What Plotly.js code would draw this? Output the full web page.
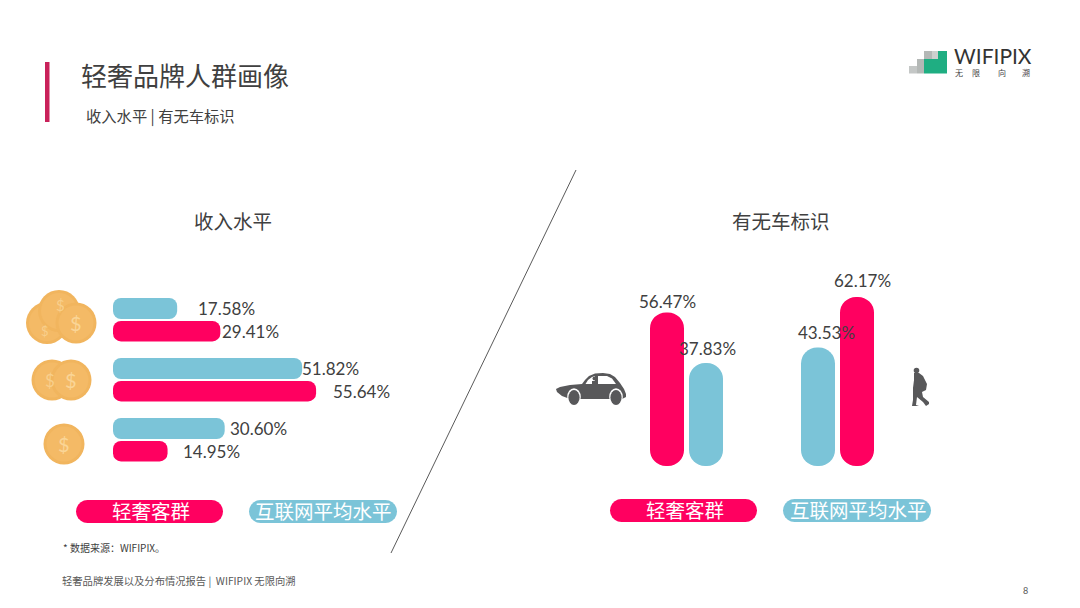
<!DOCTYPE html>
<html>
<head>
<meta charset="utf-8">
<script src="https://cdn.plot.ly/plotly-3.0.1.min.js"></script>
<style>html,body{margin:0;padding:0;background:#fff}#c{width:1080px;height:608px}</style>
</head>
<body>
<div id="c"></div>
<script>
// ---- data ----
const incomeLevels = ['高', '中', '低'];
const averageIncome = [17.58, 51.82, 30.60];
const luxuryIncome = [29.41, 55.64, 14.95];
const carGroups = ['有车', '无车'];
const carSlotA = [56.47, 43.53];
const carSlotB = [37.83, 62.17];
const seriesNames = ['轻奢客群', '互联网平均水平'];
const PINK = '#FF0060', BLUE = '#7BC4D8', TEXT = '#404040', GREY = '#58585A';
const carSlotAColors = [PINK, BLUE];
const carSlotBColors = [BLUE, PINK];

// ---- pixel helpers (page furniture only) ----
const W = 1080, H = 608;
const CJK = '"Noto Sans CJK SC", "Noto Sans", sans-serif';
const NUM = 'Lato, "Noto Sans CJK SC", sans-serif';
const px = x => x / W, py = y => 1 - y / H;
const P = (x, y) => px(x).toFixed(5) + ',' + py(y).toFixed(5);
const shapes = [], annotations = [];

function text(t, x, y, size, color, opt) {
  opt = opt || {};
  annotations.push({ text: t, xref: 'paper', yref: 'paper', x: px(x), y: py(y), showarrow: false,
    xanchor: opt.anchor || 'left', yanchor: 'middle', borderpad: 0,
    font: { family: opt.family || CJK, size: size, color: color }, opacity: opt.opacity === undefined ? 1 : opt.opacity });
}
function rect(x0, y0, x1, y1, color) {
  shapes.push({ type: 'rect', xref: 'paper', yref: 'paper', x0: px(x0), x1: px(x1), y0: py(y0), y1: py(y1),
    fillcolor: color, line: { width: 0 }, layer: 'below' });
}
function circle(cx, cy, rx, ry, color) {
  shapes.push({ type: 'circle', xref: 'paper', yref: 'paper', x0: px(cx - rx), x1: px(cx + rx), y0: py(cy - ry), y1: py(cy + ry),
    fillcolor: color, line: { width: 0 }, layer: 'below' });
}
function poly(points, color) {
  shapes.push({ type: 'path', xref: 'paper', yref: 'paper', layer: 'below', fillcolor: color, line: { width: 0 },
    path: 'M' + points.map(p => P(p[0], p[1])).join(' L') + ' Z' });
}
function pill(x0, y0, x1, y1, color) {
  const r = (y1 - y0) / 2, n = 10, pts = [];
  for (let i = 0; i <= n; i++) { const a = -Math.PI / 2 + Math.PI * i / n; pts.push([x1 - r + r * Math.cos(a), y0 + r + r * Math.sin(a)]); }
  for (let i = 0; i <= n; i++) { const a = Math.PI / 2 + Math.PI * i / n; pts.push([x0 + r + r * Math.cos(a), y0 + r + r * Math.sin(a)]); }
  poly(pts, color);
}
function coin(cx, cy, r) {
  circle(cx, cy, r, r, '#F1B55E');
  circle(cx, cy, r - 3, r - 3, '#F4BA66');
}
function dollar(x, y, size, op) {
  text('$', x, y, size, '#FAD596', { anchor: 'center', family: NUM, opacity: op });
}

// ---- header ----
rect(45, 62, 49.5, 122, '#C9215A');
text('轻奢品牌人群画像', 80, 74, 26, TEXT);
text('收入水平 | 有无车标识', 85, 116, 15.3, TEXT);

// logo
rect(909, 66, 917, 73.5, '#C4C7C6');
rect(917, 59, 924, 73.5, '#B4B8B6');
rect(924, 51, 932, 59, '#B4B8B6');
rect(932, 51, 938, 59, '#CDD0CE');
poly([[938,51],[947,51],[947,73.5],[924,73.5],[924,59],[938,59]], '#1FAE82');
text('WIFIPIX', 953, 56, 21, '#333333', { family: 'Lato, sans-serif' });
text('无', 959, 72, 8, '#444444', { anchor: 'center' });
text('限', 976, 72, 8, '#444444', { anchor: 'center' });
text('向', 1002, 72, 8, '#444444', { anchor: 'center' });
text('溯', 1026, 72, 8, '#444444', { anchor: 'center' });

// section titles
text('收入水平', 233, 220, 19.5, TEXT, { anchor: 'center' });
text('有无车标识', 781, 220, 19.5, TEXT, { anchor: 'center' });

// divider
shapes.push({ type: 'line', xref: 'paper', yref: 'paper', x0: px(576), y0: py(170), x1: px(391), y1: py(553),
  line: { color: '#5A5A5A', width: 1 }, layer: 'below' });

// coins
coin(47, 323, 21); coin(59, 311, 21); coin(76, 323, 20.5);
coin(52, 380, 20.5); coin(71, 380, 20.5);
coin(64, 444, 20.5);
dollar(60, 305, 15, 0.8); dollar(45, 331, 13, 0.8); dollar(76, 323, 20, 1);
dollar(50, 380, 17, 0.8); dollar(71, 380, 20, 1);
dollar(64, 444, 20, 1);

// car
poly([[556,389],[560,387],[570,385],[582,384],[585,380],[589,376],[595,373.5],[603,373],[610,374],[615,377],[620,383],[624,389],[626,394],[626,397],[622,399],[570,399],[562,396],[557,392]], GREY);
poly([[585.5,384],[588,380],[592,377],[595,376],[595,384]], '#FFFFFF');
poly([[598,376],[607,376],[612,378.5],[616,384],[598,384]], '#FFFFFF');
circle(574, 397, 6.8, 8.8, '#FFFFFF');
circle(616, 397, 6.8, 8.8, '#FFFFFF');
circle(574, 397.5, 5.6, 7.6, GREY);
circle(616, 397.5, 5.6, 7.6, GREY);
circle(594.5, 378.5, 2, 2, GREY);
poly([[592,381],[597,381],[597,385],[592,385]], GREY);

// person
circle(916.5, 370.5, 2.8, 2.8, GREY);
poly([[914,373],[919,373],[923,376],[927,384],[926,390],[922,392],[923,397],[929,402],[929,404],[926,406],[923,402],[917,397],[916,405],[919,406],[912,406],[913,400],[913,388],[914,380]], GREY);

// legend pills
pill(76, 500, 223, 523, PINK);
pill(249, 500, 397, 523, BLUE);
pill(610, 499, 757, 522, PINK);
pill(783, 499, 931, 522, BLUE);
text(seriesNames[0], 151, 510.5, 19.5, '#FFFFFF', { anchor: 'center' });
text(seriesNames[1], 323, 510.5, 19.5, '#FFFFFF', { anchor: 'center' });
text(seriesNames[0], 685, 509.5, 19.5, '#FFFFFF', { anchor: 'center' });
text(seriesNames[1], 858, 509.5, 19.5, '#FFFFFF', { anchor: 'center' });

// footers
text('* 数据来源：WIFIPIX。', 62, 547, 10, TEXT);
text('轻奢品牌发展以及分布情况报告 |  WIFIPIX 无限向溯', 61, 580, 10.3, '#595959');
text('8', 1025, 590, 9, '#595959', { family: NUM, anchor: 'center' });

// ---- bars: a tiny explicit base makes Plotly round both ends of each bar ----
const TINY_BASE = 0.0001;
function hBars(values, color, offset, width) {
  return { type: 'bar', orientation: 'h', xaxis: 'x', yaxis: 'y', y: incomeLevels, x: values,
    base: values.map(() => TINY_BASE), offset: offset, width: width, hoverinfo: 'skip', showlegend: false,
    marker: { color: color, cornerradius: 8, line: { width: 0 } } };
}
function vBars(values, colors, offset, width) {
  return { type: 'bar', xaxis: 'x2', yaxis: 'y2', x: carGroups, y: values,
    base: values.map(() => TINY_BASE), offset: offset, width: width, hoverinfo: 'skip', showlegend: false,
    marker: { color: colors, cornerradius: 16, line: { width: 0 } } };
}
const traces = [
  hBars(averageIncome, BLUE, -0.35, 0.35),
  hBars(luxuryIncome, PINK, 0.033, 0.34),
  vBars(carSlotA, carSlotAColors, -0.2417, 0.2252),
  vBars(carSlotB, carSlotBColors, 0.0166, 0.2252)
];

// ---- value labels, anchored on the axes ----
function hLabel(v, cat, dy, xshift) {
  annotations.push({ xref: 'x', yref: 'y', x: v, y: cat + dy, xanchor: 'left', yanchor: 'middle', xshift: xshift,
    text: v.toFixed(2) + '%', showarrow: false, borderpad: 0, font: { family: NUM, size: 17, color: TEXT } });
}
function vLabel(v, pos, xshift, yshift) {
  annotations.push({ xref: 'x2', yref: 'y2', x: pos, y: v, xanchor: 'center', yanchor: 'middle', xshift: xshift, yshift: yshift,
    text: v.toFixed(2) + '%', showarrow: false, borderpad: 0, font: { family: NUM, size: 17, color: TEXT } });
}
const hShiftAvg = [20, -1, 4], hShiftLux = [1, 16, 14];
averageIncome.forEach((v, i) => hLabel(v, i, -0.18, hShiftAvg[i]));
luxuryIncome.forEach((v, i) => hLabel(v, i, 0.2, hShiftLux[i]));
vLabel(carSlotA[0], 0 - 0.129, 0, 11);
vLabel(carSlotA[1], 1 - 0.129, 8, 15.6);
vLabel(carSlotB[0], 0 + 0.129, 2, 15);
vLabel(carSlotB[1], 1 + 0.129, 6, 16);

const layout = {
  width: W, height: H, margin: { l: 0, r: 0, t: 0, b: 0, pad: 0 },
  paper_bgcolor: '#FFFFFF', plot_bgcolor: 'rgba(0,0,0,0)', showlegend: false, barmode: 'overlay',
  xaxis: { visible: false, domain: [px(113), px(368.5)], range: [0, 70], anchor: 'y', fixedrange: true },
  yaxis: { visible: false, domain: [py(469), py(289)], type: 'category', categoryorder: 'array', categoryarray: incomeLevels,
           range: [2.5, -0.5], anchor: 'x', fixedrange: true },
  xaxis2: { visible: false, domain: [px(611), px(913)], type: 'category', categoryorder: 'array', categoryarray: carGroups,
            range: [-0.5, 1.5], anchor: 'y2', fixedrange: true },
  yaxis2: { visible: false, domain: [py(466), py(275.6)], range: [0, 70], anchor: 'x2', fixedrange: true },
  shapes: shapes, annotations: annotations
};
Plotly.newPlot('c', traces, layout, { displayModeBar: false, staticPlot: true });
</script>
</body>
</html>
